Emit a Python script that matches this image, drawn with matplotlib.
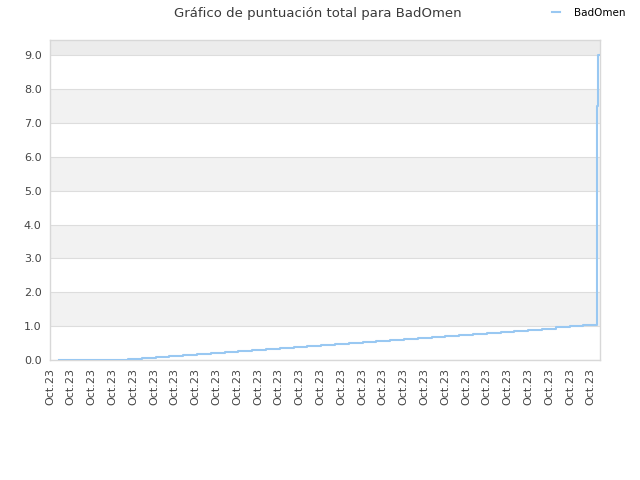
import matplotlib
matplotlib.use("Agg")
import matplotlib.pyplot as plt
import numpy as np

# data: one point per update (index)
x_idx = [0, 1, 2, 3, 4, 5, 6, 7, 8, 9, 10, 11, 12, 13, 14, 15, 16, 17, 18, 19,
         20, 21, 22, 23, 24, 25, 26, 27, 28, 29, 30, 31, 32, 33, 34, 35, 36, 37,
         38, 39, 39.07, 39.14]
scores = [0.0, 0.0, 0.0, 0.0, 0.0, 0.03, 0.06, 0.09, 0.12, 0.15, 0.18, 0.21,
          0.24, 0.27, 0.30, 0.33, 0.36, 0.39, 0.42, 0.45, 0.48, 0.51, 0.54,
          0.57, 0.60, 0.63, 0.66, 0.69, 0.72, 0.75, 0.78, 0.81, 0.84, 0.87,
          0.90, 0.93, 0.96, 0.99, 1.02, 7.5, 9.0, 9.0]
tick_labels = ["Oct.23"] * 27
y_ticks = [0, 1, 2, 3, 4, 5, 6, 7, 8, 9]
series_name = "BadOmen"
title = "Gráfico de puntuación total para BadOmen"

fig = plt.figure(figsize=(6.4, 4.8), dpi=100)
ax = fig.add_axes([50/640, 120/480, 550/640, 320/480])

xmin, xmax = -0.65, 39.2
ymin, ymax = 0, 9.45
ax.set_xlim(xmin, xmax)
ax.set_ylim(ymin, ymax)

# alternating bands
for i in range(10):
    lo, hi = i, i + 1
    if i % 2 == 1:
        ax.axhspan(lo, min(hi, ymax), color="#f2f2f2", zorder=0, lw=0)
ax.axhspan(9, ymax, color="#ececec", zorder=0, lw=0)

ax.plot(x_idx, scores, drawstyle="steps-post", color="#99c8f2", lw=1.5,
        label=series_name, zorder=3)

ax.set_yticks(y_ticks)
ax.set_yticklabels([f"{v:.1f}" for v in y_ticks])
ax.yaxis.grid(True, color="#dddddd", lw=0.8, zorder=1)
ax.set_axisbelow(True)

ticks = np.linspace(xmin, xmin + 26 * (xmax - xmin) * 20.8 / 550, 27)
ax.set_xticks(ticks)
ax.set_xticklabels(tick_labels, rotation=90)

ax.tick_params(axis="both", length=0, labelsize=8, labelcolor="#444444", pad=6)
for sp in ax.spines.values():
    sp.set_color("#d8d8d8")
    sp.set_linewidth(1)

fig.text(318/640, 1 - 13/480, title, ha="center", va="center",
         fontsize=9.5, color="#3a3a3a")
leg = fig.legend(loc="center left", bbox_to_anchor=(543/640, 1 - 13/480),
                 frameon=False, fontsize=7.5, handlelength=0.75,
                 handletextpad=1.3)
leg.get_lines()[0].set_linewidth(1.5)

fig.savefig("out.png", dpi=100)
